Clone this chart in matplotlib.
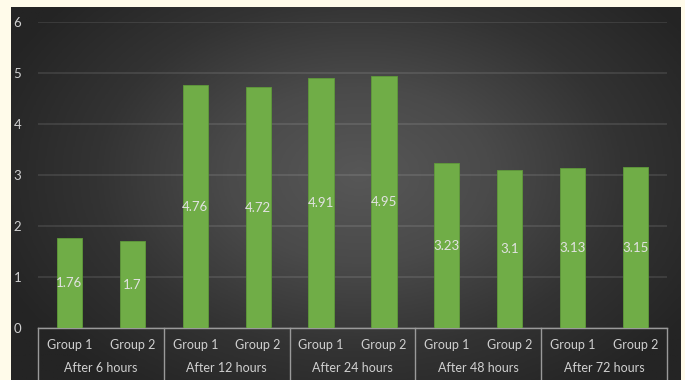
import numpy as np
import matplotlib
matplotlib.use("Agg")
import matplotlib.pyplot as plt
from matplotlib.colors import LinearSegmentedColormap

periods = ["After 6 hours", "After 12 hours", "After 24 hours", "After 48 hours", "After 72 hours"]
groups = ["Group 1", "Group 2"]
group1 = [1.76, 4.76, 4.91, 3.23, 3.13]
group2 = [1.7, 4.72, 4.95, 3.1, 3.15]
yticks = [0, 1, 2, 3, 4, 5, 6]

plt.rcParams['font.family'] = ['Lato', 'DejaVu Sans']

W, H = 685, 380
fig = plt.figure(figsize=(W / 100, H / 100), dpi=100)
fig.patch.set_facecolor('#fffbea')

# gradient background
bg = fig.add_axes([11 / W, 0, 670 / W, 373 / H])
yy, xx = np.mgrid[0:1:300j, 0:1:500j]
r = np.sqrt(((xx - 0.52) / 0.62) ** 2 + ((yy - 0.55) / 0.75) ** 2)
r = np.clip(r, 0, 1)
cmap = LinearSegmentedColormap.from_list('g', ['#575757', '#4a4a4a', '#333333', '#242424'])
bg.imshow(r, cmap=cmap, aspect='auto', extent=[0, 1, 0, 1], vmin=0, vmax=0.95, origin='lower')
bg.set_axis_off()

ax = fig.add_axes([38 / W, (H - 328) / H, (667 - 38) / W, (328 - 22) / H])
ax.set_facecolor('none')

vals = []
for a, b in zip(group1, group2):
    vals += [a, b]
x = np.arange(len(vals))
bars = ax.bar(x, vals, width=0.4, color='#70ad47', edgecolor='#5f9a3a', linewidth=0.6, zorder=3)
for xi, v in zip(x, vals):
    ax.text(xi, v / 2, f"{v:g}", ha='center', va='center', color='#e2e2e2', fontsize=9.5, zorder=4)

ax.set_xlim(-0.5, len(vals) - 0.5)
ax.set_ylim(0, 6)
ax.set_yticks(yticks)
ax.yaxis.grid(True, color='white', alpha=0.11, linewidth=1.3, zorder=0)
ax.set_axisbelow(True)
for s in ['top', 'right', 'left']:
    ax.spines[s].set_visible(False)
ax.spines['bottom'].set_color('#9a9a9a')
ax.spines['bottom'].set_linewidth(1)
ax.tick_params(axis='y', length=0, colors='#d0d0d0', labelsize=9.5, pad=12)
ax.set_xticks(x)
ax.set_xticklabels(groups * len(periods))
ax.tick_params(axis='x', length=0, colors='#d0d0d0', labelsize=9, pad=8)

trans = ax.get_xaxis_transform()
for i, p in enumerate(periods):
    ax.text(2 * i + 0.5, -0.13, p, transform=trans, ha='center', va='center',
            color='#d0d0d0', fontsize=9)
for i in range(len(periods) + 1):
    ax.plot([2 * i - 0.5, 2 * i - 0.5], [0, -0.17], transform=trans, color='#9a9a9a',
            linewidth=1, clip_on=False)

fig.savefig('out.png', dpi=100, facecolor=fig.get_facecolor())
